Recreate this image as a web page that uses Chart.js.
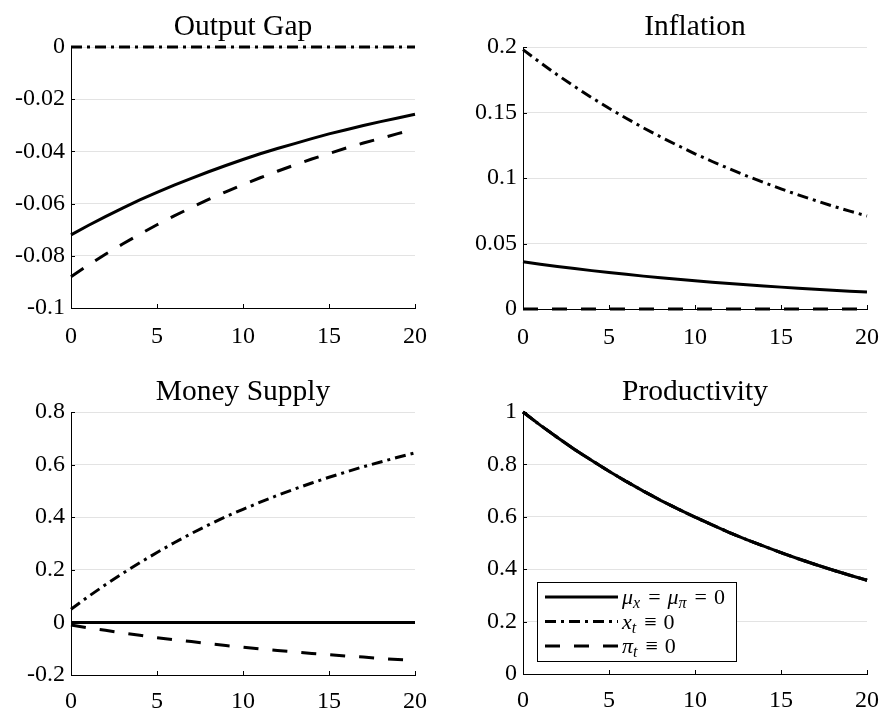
<!DOCTYPE html>
<html>
<head>
<meta charset="utf-8">
<script src="https://cdn.jsdelivr.net/npm/chart.js@4"></script>
<style>
    html, body {
        margin: 0;
        padding: 0;
        background: #ffffff;
        overflow: hidden;
    }

    .panel {
        position: absolute;
    }
</style>
</head>
<body>

<div class="panel" style="left:0px; top:0px; width:441px; height:350px;">
    <canvas id="outputGapChart"></canvas>
</div>

<div class="panel" style="left:452px; top:0px; width:441px; height:350px;">
    <canvas id="inflationChart"></canvas>
</div>

<div class="panel" style="left:0px; top:350px; width:441px; height:363px;">
    <canvas id="moneySupplyChart"></canvas>
</div>

<div class="panel" style="left:452px; top:350px; width:441px; height:363px;">
    <canvas id="productivityChart"></canvas>
</div>

<script>
// ======================================================
// Data
// ======================================================

const periods = [
    0, 1, 2, 3, 4, 5, 6, 7, 8, 9, 10,
    11, 12, 13, 14, 15, 16, 17, 18, 19, 20
];

const xTicks = [0, 5, 10, 15, 20];

// Output Gap

const gapOptimal = [
    -0.0720, -0.0684, -0.0650, -0.0617, -0.0586, -0.0557, -0.0529, -0.0503, -0.0478, -0.0454, -0.0431,
    -0.0409, -0.0389, -0.0370, -0.0351, -0.0333, -0.0317, -0.0301, -0.0286, -0.0272, -0.0258
];

const gapZeroGap = [
    0, 0, 0, 0, 0, 0, 0, 0, 0, 0, 0,
    0, 0, 0, 0, 0, 0, 0, 0, 0, 0
];

const gapZeroInflation = [
    -0.0880, -0.0836, -0.0794, -0.0755, -0.0717, -0.0681, -0.0647, -0.0615, -0.0584, -0.0555, -0.0527,
    -0.0501, -0.0476, -0.0452, -0.0429, -0.0408, -0.0387, -0.0368, -0.0350, -0.0332, -0.0315
];

const gapTicks = [-0.1, -0.08, -0.06, -0.04, -0.02, 0];

// Inflation

const inflOptimal = [
    0.0360, 0.0342, 0.0325, 0.0309, 0.0293, 0.0279, 0.0265, 0.0251, 0.0239, 0.0227, 0.0216,
    0.0205, 0.0195, 0.0185, 0.0176, 0.0167, 0.0158, 0.0151, 0.0143, 0.0136, 0.0129
];

const inflZeroGap = [
    0.1980, 0.1881, 0.1787, 0.1698, 0.1613, 0.1532, 0.1456, 0.1383, 0.1314, 0.1248, 0.1185,
    0.1126, 0.1070, 0.1016, 0.0966, 0.0917, 0.0871, 0.0828, 0.0786, 0.0747, 0.0710
];

const inflZeroInflation = [
    0, 0, 0, 0, 0, 0, 0, 0, 0, 0, 0,
    0, 0, 0, 0, 0, 0, 0, 0, 0, 0
];

const inflTicks = [0, 0.05, 0.1, 0.15, 0.2];

// Money Supply

const moneyOptimal = [
    0, 0, 0, 0, 0, 0, 0, 0, 0, 0, 0,
    0, 0, 0, 0, 0, 0, 0, 0, 0, 0
];

const moneyZeroGap = [
    0.050, 0.098, 0.143, 0.186, 0.227, 0.266, 0.303, 0.338, 0.371, 0.402, 0.430,
    0.457, 0.483, 0.507, 0.530, 0.552, 0.572, 0.592, 0.610, 0.628, 0.645
];

const moneyZeroInflation = [
    -0.010, -0.021, -0.030, -0.040, -0.049, -0.058, -0.066, -0.073, -0.081, -0.088, -0.094,
    -0.101, -0.107, -0.112, -0.118, -0.123, -0.128, -0.132, -0.137, -0.141, -0.145
];

const moneyTicks = [-0.2, 0, 0.2, 0.4, 0.6, 0.8];

// Productivity

const prodOptimal = [
    1, 0.950, 0.903, 0.857, 0.815, 0.774, 0.735, 0.698, 0.663, 0.630, 0.599,
    0.569, 0.540, 0.513, 0.488, 0.463, 0.440, 0.418, 0.397, 0.377, 0.358
];

const prodZeroGap = [
    1, 0.950, 0.903, 0.857, 0.815, 0.774, 0.735, 0.698, 0.663, 0.630, 0.599,
    0.569, 0.540, 0.513, 0.488, 0.463, 0.440, 0.418, 0.397, 0.377, 0.358
];

const prodZeroInflation = [
    1, 0.950, 0.903, 0.857, 0.815, 0.774, 0.735, 0.698, 0.663, 0.630, 0.599,
    0.569, 0.540, 0.513, 0.488, 0.463, 0.440, 0.418, 0.397, 0.377, 0.358
];

const prodTicks = [0, 0.2, 0.4, 0.6, 0.8, 1];

// Legend (segments: text, style)

const legendLabels = [
    [["μ", "i"], ["x", "s"], ["=", "op"], ["μ", "i"], ["π", "s"], ["=", "op"], ["0", "r"]],
    [["x", "i"], ["t", "s"], ["≡", "op"], ["0", "r"]],
    [["π", "i"], ["t", "s"], ["≡", "op"], ["0", "r"]]
];

// ======================================================
// Styles
// ======================================================

const FONT = "'Liberation Serif', 'Times New Roman', serif";

const lineStyles = [
    { borderDash: [] },
    { borderDash: [11, 5, 3, 5] },
    { borderDash: [15, 14] }
];

function makeDatasets(seriesList) {

    return seriesList.map((values, i) => ({
        data: periods.map((t, j) => ({ x: t, y: values[j] })),
        borderColor: "#000000",
        borderWidth: 3,
        borderDash: lineStyles[i].borderDash,
        pointRadius: 0,
        tension: 0,
        fill: false,
        clip: false
    }));
}

// ======================================================
// Plugins
// ======================================================

// title centred over the plot area, like MATLAB
const centreTitle = {

    id: "centreTitle",

    afterLayout(chart) {

        if (!chart.titleBlock) return;

        chart.titleBlock.left = chart.chartArea.left;
        chart.titleBlock.right = chart.chartArea.right;
    }
};

const inwardTicks = {

    id: "inwardTicks",

    beforeDatasetsDraw(chart) {

        const { ctx, chartArea, scales } = chart;

        ctx.save();
        ctx.strokeStyle = "#000000";
        ctx.lineWidth = 1;

        scales.x.ticks.forEach(tick => {
            const px = Math.round(scales.x.getPixelForValue(tick.value)) + 0.5;
            ctx.beginPath();
            ctx.moveTo(px, chartArea.bottom);
            ctx.lineTo(px, chartArea.bottom - 4);
            ctx.stroke();
        });

        scales.y.ticks.forEach(tick => {
            const py = Math.round(scales.y.getPixelForValue(tick.value)) + 0.5;
            ctx.beginPath();
            ctx.moveTo(chartArea.left, py);
            ctx.lineTo(chartArea.left + 4, py);
            ctx.stroke();
        });

        ctx.restore();
    }
};

function drawMathLabel(ctx, segments, x, baseline) {

    let cursor = x;

    segments.forEach(([text, style]) => {

        let dy = 0;

        if (style === "i") {
            ctx.font = "italic 22px " + FONT;
        }
        else if (style === "s") {
            ctx.font = "italic 16px " + FONT;
            dy = 4;
        }
        else {
            ctx.font = "22px " + FONT;
        }

        if (style === "op") cursor += 7;

        ctx.fillText(text, cursor, baseline + dy);

        cursor += ctx.measureText(text).width;

        if (style === "op") cursor += 7;
        if (style === "s") cursor += 1;
    });
}

const boxLegend = {

    id: "boxLegend",

    afterDatasetsDraw(chart) {

        const { ctx, chartArea } = chart;

        const left = chartArea.left + 14;
        const top = chartArea.bottom - 92;
        const width = 199;
        const height = 79;

        ctx.save();

        ctx.fillStyle = "#ffffff";
        ctx.fillRect(left, top, width, height);

        ctx.strokeStyle = "#000000";
        ctx.lineWidth = 1;
        ctx.strokeRect(left + 0.5, top + 0.5, width, height);

        chart.data.datasets.forEach((ds, i) => {

            const rowY = top + 15 + i * 24.5;

            ctx.setLineDash(ds.borderDash);
            ctx.lineWidth = ds.borderWidth;
            ctx.beginPath();
            ctx.moveTo(left + 8, rowY);
            ctx.lineTo(left + 81, rowY);
            ctx.stroke();
            ctx.setLineDash([]);

            ctx.fillStyle = "#000000";
            ctx.textBaseline = "alphabetic";
            drawMathLabel(ctx, legendLabels[i], left + 85, rowY + 7);
        });

        ctx.restore();
    }
};

// ======================================================
// Create Charts
// ======================================================

function createPanel(canvasId, title, seriesList, yTicks, layout, withLegend) {

    const plugins = [centreTitle, inwardTicks];

    if (withLegend) plugins.push(boxLegend);

    return new Chart(
        document.getElementById(canvasId),
        {
            type: "line",

            data: {
                datasets: makeDatasets(seriesList)
            },

            options: {

                responsive: true,

                maintainAspectRatio: false,

                animation: false,

                layout: {
                    padding: { left: 0, right: 26, top: 0, bottom: 0 }
                },

                plugins: {

                    legend: {
                        display: false
                    },

                    tooltip: {
                        enabled: false
                    },

                    title: {
                        display: true,
                        text: title,
                        color: "#000000",
                        font: { family: FONT, size: 29.5, weight: "normal" },
                        padding: { top: layout.titleTop, bottom: layout.titleBottom }
                    }
                },

                scales: {

                    x: {
                        type: "linear",
                        min: 0,
                        max: 20,
                        afterBuildTicks: scale => {
                            scale.ticks = xTicks.map(v => ({ value: v }));
                        },
                        afterFit: scale => {
                            scale.height = layout.xHeight;
                        },
                        ticks: {
                            color: "#000000",
                            font: { family: FONT, size: 24 },
                            padding: layout.xPad,
                            maxRotation: 0,
                            callback: v => String(v)
                        },
                        grid: {
                            drawOnChartArea: false,
                            drawTicks: false
                        },
                        border: {
                            display: true,
                            color: "#000000",
                            width: 1
                        }
                    },

                    y: {
                        type: "linear",
                        min: yTicks[0],
                        max: yTicks[yTicks.length - 1],
                        afterBuildTicks: scale => {
                            scale.ticks = yTicks.map(v => ({ value: v }));
                        },
                        afterFit: scale => {
                            scale.width = 71;
                        },
                        ticks: {
                            color: "#000000",
                            font: { family: FONT, size: 24 },
                            padding: 6,
                            callback: v => String(v)
                        },
                        grid: {
                            color: "#e3e3e3",
                            lineWidth: 1,
                            drawTicks: false
                        },
                        border: {
                            display: true,
                            color: "#000000",
                            width: 1
                        }
                    }
                }
            },

            plugins: plugins
        }
    );
}

createPanel(
    "outputGapChart", "Output Gap",
    [gapOptimal, gapZeroGap, gapZeroInflation], gapTicks,
    { titleTop: 10, titleBottom: 1.6, xHeight: 42, xPad: 14 }, false
);

createPanel(
    "inflationChart", "Inflation",
    [inflOptimal, inflZeroGap, inflZeroInflation], inflTicks,
    { titleTop: 10, titleBottom: 1.6, xHeight: 41, xPad: 14 }, false
);

createPanel(
    "moneySupplyChart", "Money Supply",
    [moneyOptimal, moneyZeroGap, moneyZeroInflation], moneyTicks,
    { titleTop: 24.6, titleBottom: 2, xHeight: 38, xPad: 12 }, false
);

createPanel(
    "productivityChart", "Productivity",
    [prodOptimal, prodZeroGap, prodZeroInflation], prodTicks,
    { titleTop: 24.6, titleBottom: 2, xHeight: 39, xPad: 12 }, true
);
</script>
</body>
</html>
